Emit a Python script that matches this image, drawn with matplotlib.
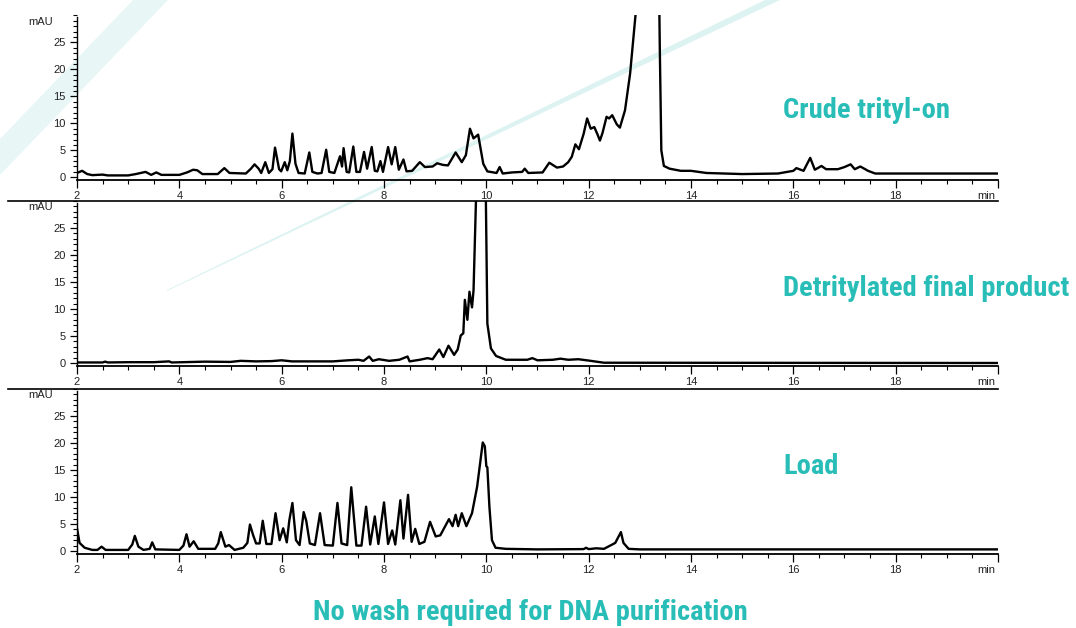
import matplotlib
matplotlib.use("Agg")
import matplotlib.pyplot as plt
from matplotlib.lines import Line2D
from matplotlib.patches import Polygon
from matplotlib.ticker import MultipleLocator

plt.rcParams['font.family'] = ['Liberation Sans', 'DejaVu Sans']

# retention time (min) / absorbance (mAU)
crude_t = [2.0, 2.1, 2.2, 2.3, 2.5, 2.6, 3.0, 3.15, 3.3, 3.34, 3.45, 3.55, 3.65, 4.0, 4.15, 4.27,
           4.35, 4.45, 4.75, 4.88, 4.98, 5.3, 5.4, 5.47, 5.55, 5.6, 5.68, 5.75, 5.82, 5.87, 5.95,
           5.99, 6.06, 6.11, 6.16, 6.21, 6.27, 6.33, 6.45, 6.54, 6.6, 6.7, 6.78, 6.87, 6.93, 7.03,
           7.14, 7.18, 7.21, 7.27, 7.32, 7.40, 7.46, 7.53, 7.61, 7.67, 7.76, 7.82, 7.87, 7.93, 7.98,
           8.08, 8.15, 8.22, 8.29, 8.38, 8.44, 8.55, 8.70, 8.8, 8.95, 9.04, 9.15, 9.25, 9.4, 9.52,
           9.6, 9.68, 9.75, 9.84, 9.94, 10.02, 10.2, 10.26, 10.32, 10.5, 10.7, 10.75, 10.82, 11.1,
           11.23, 11.38, 11.5, 11.6, 11.67, 11.74, 11.81, 11.9, 11.97, 12.04, 12.11, 12.17, 12.22,
           12.27, 12.35, 12.40, 12.46, 12.55, 12.61, 12.71, 12.81, 12.87, 12.92, 13.0, 13.15, 13.3,
           13.37, 13.39, 13.42, 13.47, 13.58, 13.8, 14.0, 14.3, 15.0, 15.7, 16.0, 16.06, 16.2,
           16.33, 16.42, 16.55, 16.64, 16.87, 17.0, 17.12, 17.2, 17.31, 17.46, 17.6, 20.0]
crude_v = [0.8, 1.2, 0.6, 0.4, 0.5, 0.35, 0.35, 0.6, 0.9, 1.0, 0.45, 0.9, 0.45, 0.45, 0.9, 1.4,
           1.3, 0.6, 0.6, 1.7, 0.8, 0.7, 1.6, 2.4, 1.6, 0.8, 2.8, 0.8, 1.5, 5.5, 1.5,
           1.1, 2.8, 1.3, 3.0, 8.1, 2.5, 0.8, 0.7, 4.6, 1.0, 0.7, 0.8, 5.1, 1.0, 0.8,
           3.9, 2.0, 5.4, 1.0, 0.9, 5.7, 1.0, 1.0, 4.7, 1.6, 5.6, 1.2, 1.1, 3.0, 1.0,
           5.6, 2.4, 5.6, 1.4, 3.3, 1.1, 1.2, 2.8, 1.9, 2.0, 2.6, 2.3, 2.2, 4.6, 2.8,
           4.1, 9.0, 7.2, 7.9, 2.5, 1.1, 0.8, 1.9, 0.7, 0.9, 1.0, 1.6, 0.8, 0.9,
           2.7, 1.8, 2.0, 2.8, 3.8, 6.1, 5.2, 8.0, 10.9, 9.0, 9.3, 8.0, 6.8,
           8.2, 11.2, 10.9, 11.5, 9.8, 9.2, 12.4, 19.2, 25.4, 30.5, 45, 120, 90,
           40, 24, 5, 2.1, 1.6, 1.2, 1.2, 0.8, 0.6, 0.7, 1.2, 1.7, 1.2,
           3.6, 1.4, 2.1, 1.5, 1.5, 1.9, 2.4, 1.5, 2.0, 1.2, 0.7, 0.7]

detrit_t = [2.0, 2.5, 2.55, 2.6, 3.0, 3.5, 3.8, 3.85, 4.5, 5.0, 5.2, 5.5, 5.8, 6.0, 6.2, 6.6,
            7.0, 7.3, 7.5, 7.6, 7.71, 7.78, 7.9, 8.1, 8.3, 8.46, 8.5, 8.7, 8.85, 8.95, 9.08,
            9.16, 9.26, 9.37, 9.44, 9.5, 9.55, 9.58, 9.63, 9.67, 9.72, 9.75, 9.8, 9.9, 9.99,
            10.02, 10.09, 10.19, 10.38, 10.8, 10.9, 11.0, 11.3, 11.45, 11.6, 11.8, 12.0, 12.3,
            20.0]
detrit_v = [0.1, 0.1, 0.25, 0.1, 0.15, 0.15, 0.3, 0.1, 0.25, 0.2, 0.4, 0.3, 0.35, 0.5, 0.3, 0.3,
            0.3, 0.5, 0.6, 0.4, 1.2, 0.4, 0.7, 0.4, 0.6, 1.2, 0.3, 0.6, 0.9, 0.7, 2.5,
            1.1, 3.2, 1.5, 2.5, 5.1, 5.5, 11.7, 8.0, 13.2, 10.3, 13.5, 31, 150, 31,
            7.3, 2.7, 1.3, 0.6, 0.6, 0.9, 0.5, 0.6, 0.8, 0.6, 0.7, 0.45, 0.05,
            0.0]

load_t = [2.0, 2.05, 2.15, 2.3, 2.4, 2.48, 2.56, 3.0, 3.08, 3.13, 3.2, 3.3, 3.42, 3.47, 3.53,
          4.0, 4.08, 4.14, 4.2, 4.28, 4.37, 4.7, 4.76, 4.81, 4.9, 4.97, 5.08, 5.25, 5.33, 5.38,
          5.44, 5.5, 5.57, 5.63, 5.7, 5.8, 5.88, 5.96, 6.03, 6.1, 6.15, 6.21, 6.28, 6.35, 6.43,
          6.48, 6.55, 6.65, 6.75, 6.84, 7.0, 7.09, 7.17, 7.28, 7.36, 7.46, 7.56, 7.65, 7.73,
          7.82, 7.89, 8.0, 8.08, 8.16, 8.22, 8.32, 8.38, 8.47, 8.54, 8.61, 8.69, 8.79, 8.9,
          9.01, 9.1, 9.27, 9.34, 9.4, 9.45, 9.52, 9.61, 9.72, 9.82, 9.93, 9.97, 10.0, 10.02,
          10.06, 10.11, 10.18, 10.38, 11.0, 11.9, 11.95, 12.0, 12.15, 12.3, 12.52, 12.63,
          12.68, 12.78, 13.0, 20.0]
load_v = [4.2, 1.5, 0.6, 0.2, 0.2, 0.8, 0.2, 0.2, 1.2, 2.8, 0.8, 0.2, 0.4, 1.6, 0.3,
          0.2, 1.0, 3.1, 0.8, 1.8, 0.4, 0.4, 1.4, 3.5, 0.8, 1.1, 0.2, 0.6, 1.5, 4.9,
          3.0, 1.4, 1.4, 5.6, 1.3, 1.3, 7.0, 2.0, 4.2, 1.6, 5.7, 8.9, 2.0, 1.1, 7.2,
          5.6, 1.4, 1.1, 7.0, 1.1, 1.0, 8.9, 1.4, 1.1, 11.8, 1.0, 1.0, 8.2, 1.2,
          6.4, 1.3, 9.0, 1.3, 3.8, 1.2, 9.4, 2.3, 10.4, 1.7, 4.1, 1.3, 1.7, 5.4,
          2.7, 2.9, 5.9, 4.6, 6.7, 4.6, 7.0, 4.6, 7.0, 11.9, 20.1, 19.4, 15.7, 15.5,
          8.2, 2.0, 0.6, 0.4, 0.3, 0.35, 0.6, 0.35, 0.5, 0.4, 1.5, 3.5,
          1.5, 0.4, 0.3, 0.3]

labels = ["Crude trityl-on", "Detritylated final product", "Load"]
x_ticks = [2, 4, 6, 8, 10, 12, 14, 16, 18, 20]
x_ticklabels = ["2", "4", "6", "8", "10", "12", "14", "16", "18", ""]
y_ticks = [0, 5, 10, 15, 20, 25]

W, H = 1076, 628
TEAL = "#29bdb7"
title_font = ['Liberation Sans Narrow', 'Roboto Condensed', 'Roboto', 'DejaVu Sans']


def fx(px):
    return px / W


def fy(py):
    return 1 - py / H


fig = plt.figure(figsize=(W / 100, H / 100), dpi=100)

# faint decorative stripes in the background
fig.add_artist(Polygon([(fx(133), fy(0)), (fx(168), fy(0)), (fx(0), fy(175)), (fx(0), fy(139))],
                       closed=True, transform=fig.transFigure, facecolor="#e8f7f6",
                       edgecolor="none", zorder=-2))
fig.add_artist(Polygon([(fx(167), fy(290)), (fx(765), fy(0)), (fx(780), fy(0)), (fx(167), fy(291))],
                       closed=True, transform=fig.transFigure, facecolor="#ddf3f2",
                       edgecolor="none", zorder=-2))

# pixel positions of each panel (bottom of axis, height)
panel_bottoms = [180, 365.7, 553.7]
panel_h = 164.7
traces = [(crude_t, crude_v), (detrit_t, detrit_v), (load_t, load_v)]
label_y = [111, 288, 466]

for i, (t, v) in enumerate(traces):
    ax = fig.add_axes([fx(77), fy(panel_bottoms[i]), fx(998) - fx(77), panel_h / H])
    ax.patch.set_alpha(0)
    ax.plot(t, v, color="black", lw=1.7, solid_joinstyle="round")
    ax.set_xlim(2, 20)
    ax.set_ylim(-0.5, 30)
    for s in ["top", "right"]:
        ax.spines[s].set_visible(False)
    ax.spines["left"].set_bounds(-0.5, 29.7)
    ax.spines["left"].set_linewidth(1.0)
    ax.spines["bottom"].set_linewidth(1.3)
    ax.set_xticks(x_ticks)
    ax.set_xticklabels(x_ticklabels)
    ax.xaxis.set_minor_locator(MultipleLocator(0.5))
    ax.set_yticks(y_ticks)
    ax.yaxis.set_minor_locator(MultipleLocator(1))
    ax.tick_params(axis="both", which="major", direction="out", labelsize=8,
                   labelcolor="#222222", width=0.9, pad=2)
    ax.tick_params(axis="y", which="major", length=5, pad=3)
    ax.tick_params(axis="x", which="major", length=6)
    ax.tick_params(axis="both", which="minor", direction="out", length=3, width=0.8)
    ax.annotate("mAU", xy=(0, 28.8), xycoords=ax.get_yaxis_transform(),
                xytext=(-26, 0), textcoords="offset points", ha="center", va="center",
                fontsize=8, color="#222222")
    ax.annotate("min", xy=(20, 0), xycoords=("data", "axes fraction"),
                xytext=(-2, -8), textcoords="offset points", ha="right", va="top",
                fontsize=8, color="#222222")
    fig.text(fx(783), fy(label_y[i]), labels[i], ha="left", va="center",
             fontsize=20.5, fontweight="bold", color=TEAL, family=title_font)

# separator lines above the lower two panels
for py in [201, 389]:
    fig.add_artist(Line2D([fx(8), fx(998)], [fy(py), fy(py)], transform=fig.transFigure,
                          color="black", lw=1.2))

fig.text(fx(530), fy(612), "No wash required for DNA purification", ha="center", va="center",
         fontsize=20.5, fontweight="bold", color=TEAL, family=title_font)

fig.savefig("out.png", dpi=100)
